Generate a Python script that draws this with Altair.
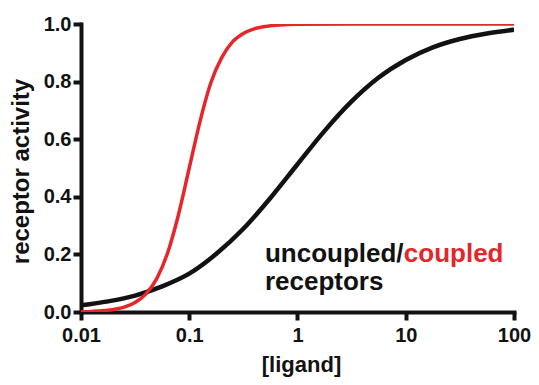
import altair as alt
import pandas as pd

# uncoupled receptors (black curve)
unc_x = [0.01, 0.0178, 0.0316, 0.0562, 0.1, 0.178, 0.316, 0.562, 1, 1.78, 3.16,
         5.62, 10, 17.8, 31.6, 56.2, 100]
unc_y = [0.023, 0.037, 0.057, 0.089, 0.133, 0.202, 0.289, 0.396, 0.513, 0.629,
         0.731, 0.814, 0.875, 0.919, 0.948, 0.967, 0.980]

# coupled receptors (red curve)
cpl_x = [0.01, 0.0126, 0.0158, 0.02, 0.0251, 0.0316, 0.0398, 0.0501, 0.0631,
         0.0794, 0.1, 0.126, 0.158, 0.2, 0.251, 0.316, 0.398, 0.501, 0.631,
         0.794, 1, 3.16, 10, 31.6, 100]
cpl_y = [0.001, 0.002, 0.004, 0.009, 0.017, 0.033, 0.063, 0.116, 0.205, 0.337,
         0.5, 0.663, 0.795, 0.884, 0.938, 0.967, 0.983, 0.991, 0.996, 0.998,
         0.999, 1.0, 1.0, 1.0, 1.0]

x_ticks = [0.01, 0.1, 1, 10, 100]
y_ticks = [0, 0.2, 0.4, 0.6, 0.8, 1.0]

BLACK = "#121212"
RED = "#e5262a"
FONT = "Liberation Sans"

unc = pd.DataFrame({"ligand": unc_x, "activity": unc_y})
cpl = pd.DataFrame({"ligand": cpl_x, "activity": cpl_y})

xscale = alt.Scale(type="log", domain=[0.01, 100], nice=False)
yscale = alt.Scale(domain=[0, 1], nice=False, zero=False)

xenc = alt.X("ligand:Q", scale=xscale,
             axis=alt.Axis(values=x_ticks, format="~g", title="[ligand]",
                           labelFlush=False,
                           titleX=220, titleY=59, titleBaseline="alphabetic",
                           titleAlign="center"))
yenc = alt.Y("activity:Q", scale=yscale,
             axis=alt.Axis(values=y_ticks, format=".1f", title="receptor activity",
                           labelFlush=False,
                           titleX=-53, titleY=147, titleBaseline="alphabetic",
                           titleAlign="center", titleAngle=270))

black_line = alt.Chart(unc).mark_line(
    color=BLACK, strokeWidth=4.5, interpolate="monotone", strokeCap="round", clip=True
).encode(x=xenc, y=yenc)

red_line = alt.Chart(cpl).mark_line(
    color=RED, strokeWidth=3.5, interpolate="monotone", strokeCap="round", clip=True
).encode(x=xenc, y=yenc)

ann_txt1 = ["uncoupled/"]
ann_txt2 = ["coupled"]
ann_txt3 = ["receptors"]

t1 = alt.Chart(pd.DataFrame({"ligand": [0.5], "activity": [0.174], "t": ann_txt1})).mark_text(
    align="left", baseline="alphabetic", font=FONT, fontWeight="bold", fontSize=26, color=BLACK
).encode(x=alt.X("ligand:Q", scale=xscale), y=alt.Y("activity:Q", scale=yscale), text="t:N")
t2 = alt.Chart(pd.DataFrame({"ligand": [9.6], "activity": [0.174], "t": ann_txt2})).mark_text(
    align="left", baseline="alphabetic", font=FONT, fontWeight="bold", fontSize=26, color=RED
).encode(x=alt.X("ligand:Q", scale=xscale), y=alt.Y("activity:Q", scale=yscale), text="t:N")
t3 = alt.Chart(pd.DataFrame({"ligand": [0.5], "activity": [0.076], "t": ann_txt3})).mark_text(
    align="left", baseline="alphabetic", font=FONT, fontWeight="bold", fontSize=26, color=BLACK
).encode(x=alt.X("ligand:Q", scale=xscale), y=alt.Y("activity:Q", scale=yscale), text="t:N")

chart = alt.layer(black_line, red_line, t1, t2, t3).properties(
    width=433, height=288,
    autosize=alt.AutoSizeParams(type="none"),
    padding={"left": 73, "top": 16, "right": 17, "bottom": 65},
    background="white",
).configure_view(stroke=None).configure_axis(
    grid=False,
    domainColor=BLACK, domainWidth=4, domainCap="square",
    tickColor=BLACK, tickWidth=4, tickSize=8,
    labelFont=FONT, labelFontWeight="bold", labelFontSize=20, labelColor=BLACK,
    titleFont=FONT, titleFontWeight="bold", titleColor=BLACK,
).configure_axisX(labelPadding=5, titleFontSize=22).configure_axisY(
    labelPadding=2, titleFontSize=24
)

chart.save("out.html", embed_options={"renderer": "svg", "actions": False})
